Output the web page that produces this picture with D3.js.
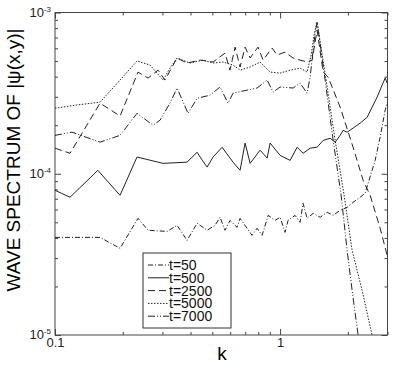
<!DOCTYPE html>
<html>
<head>
  <meta charset="utf-8">
  <title>Wave spectrum</title>
  <script src="https://d3js.org/d3.v7.min.js"></script>
  <style>
    body { margin: 0; background: #fff; }
    svg { display: block; font-family: "Liberation Sans", Arial, sans-serif; }
    .axis path { display: none; }
    .axis line { stroke: #444; }
    .axis text { font-size: 13px; fill: #222; }
    .curve { fill: none; stroke: #222; stroke-width: 1; }
  </style>
</head>
<body>
<script>
  // series: wave number k and spectrum value for each time
  var k50 = [0.1, 0.1227, 0.1585, 0.1945, 0.2338, 0.259, 0.315, 0.3485, 0.386, 0.428, 0.474, 0.514, 0.541, 0.569, 0.599, 0.644, 0.664, 0.713, 0.751, 0.79, 0.832, 0.885, 0.95, 1.0, 1.052, 1.085, 1.166, 1.227, 1.265, 1.318, 1.402, 1.506, 1.618, 1.721, 1.848, 1.985, 2.11, 2.267, 2.386, 2.461, 2.643, 2.783, 2.929, 2.989];
  var s50 = [4.03e-5, 4.03e-5, 4.03e-5, 3.45e-5, 5.29e-5, 4.46e-5, 4.39e-5, 4.79e-5, 3.86e-5, 4.93e-5, 4.46e-5, 4.79e-5, 5.37e-5, 4.46e-5, 5.14e-5, 4.65e-5, 5.29e-5, 4.59e-5, 4.15e-5, 4.59e-5, 4.15e-5, 5.52e-5, 5.14e-5, 5.37e-5, 4.33e-5, 5.14e-5, 5.52e-5, 5.0e-5, 6.56e-5, 5.29e-5, 5.68e-5, 5.37e-5, 5.77e-5, 5.52e-5, 5.93e-5, 6.19e-5, 6.65e-5, 7.15e-5, 7.57e-5, 8.73e-5, 1.21e-4, 1.69e-4, 2.48e-4, 2.74e-4];

  var k500 = [0.1, 0.1166, 0.155, 0.1945, 0.2314, 0.302, 0.386, 0.428, 0.441, 0.474, 0.504, 0.5524, 0.618, 0.664, 0.699, 0.736, 0.815, 0.876, 0.903, 1.0, 1.108, 1.19, 1.265, 1.36, 1.46, 1.553, 1.668, 1.756, 1.848, 1.905, 1.985, 2.11, 2.267, 2.436, 2.564, 2.698, 2.841, 2.929, 2.989];
  var s500 = [7.9e-5, 7.15e-5, 1.05e-4, 7.35e-5, 1.27e-4, 1.16e-4, 1.18e-4, 1.36e-4, 1.27e-4, 1.1e-4, 1.27e-4, 1.46e-4, 1.18e-4, 1.05e-4, 1.55e-4, 1.16e-4, 1.4e-4, 1.25e-4, 1.55e-4, 1.3e-4, 1.21e-4, 1.46e-4, 1.34e-4, 1.44e-4, 1.46e-4, 1.61e-4, 1.66e-4, 1.57e-4, 1.73e-4, 1.86e-4, 1.81e-4, 1.92e-4, 2.06e-4, 2.24e-4, 2.59e-4, 2.99e-4, 3.55e-4, 3.92e-4, 3.65e-4];

  var k2500 = [0.1, 0.1166, 0.1585, 0.1945, 0.2338, 0.259, 0.287, 0.308, 0.3485, 0.386, 0.441, 0.504, 0.569, 0.599, 0.631, 0.664, 0.699, 0.736, 0.798, 0.84, 0.921, 0.97, 1.052, 1.142, 1.227, 1.318, 1.388, 1.46, 1.553, 1.634, 1.848, 2.11, 2.338, 2.512, 2.783, 2.989];
  var s2500 = [1.44e-4, 1.34e-4, 2.74e-4, 2.28e-4, 4.27e-4, 3.92e-4, 4.39e-4, 3.81e-4, 5.22e-4, 4.86e-4, 5.07e-4, 4.93e-4, 5.6e-4, 4.39e-4, 6.1e-4, 4.59e-4, 6.1e-4, 5.22e-4, 6.1e-4, 5.07e-4, 6.02e-4, 5.45e-4, 5.68e-4, 5.22e-4, 5.07e-4, 4.93e-4, 5.07e-4, 7.78e-4, 4.27e-4, 3.98e-4, 2.59e-4, 1.46e-4, 9.11e-5, 7.35e-5, 4.59e-5, 3.12e-5];

  var k5000 = [0.1, 0.1227, 0.1585, 0.1945, 0.2314, 0.2644, 0.302, 0.324, 0.3485, 0.398, 0.4548, 0.504, 0.558, 0.618, 0.664, 0.736, 0.815, 0.903, 1.0, 1.108, 1.227, 1.318, 1.374, 1.416, 1.46, 1.601, 1.756, 1.925, 2.089, 2.314, 2.564, 2.672];
  var s5000 = [2.55e-4, 2.66e-4, 2.78e-4, 3.81e-4, 5.0e-4, 4.72e-4, 3.81e-4, 4.52e-4, 5.22e-4, 4.86e-4, 5.07e-4, 4.86e-4, 4.93e-4, 4.72e-4, 4.39e-4, 4.59e-4, 4.93e-4, 4.27e-4, 4.21e-4, 4.39e-4, 4.52e-4, 4.27e-4, 5.45e-4, 7.25e-4, 8.73e-4, 3.81e-4, 1.61e-4, 7.35e-5, 3.35e-5, 1.89e-5, 9.93e-6, 6.95e-6];

  var k7000 = [0.1, 0.119, 0.1585, 0.1945, 0.2314, 0.2726, 0.293, 0.324, 0.3485, 0.39, 0.428, 0.4885, 0.541, 0.587, 0.618, 0.713, 0.79, 0.876, 0.931, 1.0, 1.142, 1.227, 1.318, 1.36, 1.402, 1.431, 1.46, 1.585, 1.721, 1.867, 1.985, 2.089, 2.221, 2.314];
  var s7000 = [1.73e-4, 1.81e-4, 1.57e-4, 1.73e-4, 2.37e-4, 2.0e-4, 2.15e-4, 2.74e-4, 3.4e-4, 2.37e-4, 2.94e-4, 3.07e-4, 3.45e-4, 2.74e-4, 3.16e-4, 3.3e-4, 3.4e-4, 3.81e-4, 3.21e-4, 3.45e-4, 3.4e-4, 3.65e-4, 3.16e-4, 3.98e-4, 5.85e-4, 7.46e-4, 8.73e-4, 3.81e-4, 1.61e-4, 7.35e-5, 3.35e-5, 1.89e-5, 1.0e-5, 6.95e-6];

  var seriesNames = ["t=50", "t=500", "t=2500", "t=5000", "t=7000"];
  var seriesK = [k50, k500, k2500, k5000, k7000];
  var seriesS = [s50, s500, s2500, s5000, s7000];
  var dashes = ["5,2,1,2", null, "7,4", "1.5,1.5", "7,2,1,2,1,2"];

  var xMajor = [0.1, 1];
  var xMinor = [0.2, 0.3, 0.4, 0.5, 0.6, 0.7, 0.8, 0.9, 2, 3];
  var yMajor = [1e-5, 1e-4, 1e-3];
  var yMajorLabels = ["-5", "-4", "-3"];
  var yMinor = [2e-5, 3e-5, 4e-5, 5e-5, 6e-5, 7e-5, 8e-5, 9e-5, 2e-4, 3e-4, 4e-4, 5e-4, 6e-4, 7e-4, 8e-4, 9e-4];

  var svgW = 403, svgH = 368;
  var plotL = 55, plotR = 387.5, plotT = 12.5, plotB = 335;

  var svg = d3.select("body").append("svg")
    .attr("width", svgW)
    .attr("height", svgH);

  var x = d3.scaleLog().domain([0.1, 3]).range([plotL, plotR]);
  var y = d3.scaleLog().domain([1e-5, 1e-3]).range([plotB, plotT]);

  svg.append("clipPath").attr("id", "plotclip")
    .append("rect")
    .attr("x", plotL).attr("y", plotT)
    .attr("width", plotR - plotL).attr("height", plotB - plotT);

  // ticks, inward on all four sides
  function addAxis(axis, tx, ty, cls) {
    svg.append("g").attr("class", "axis " + cls)
      .attr("transform", "translate(" + tx + "," + ty + ")")
      .call(axis);
  }
  addAxis(d3.axisBottom(x).tickValues(xMajor).tickSize(-6).tickPadding(3).tickFormat(d3.format("")), 0, plotB, "xb");
  addAxis(d3.axisBottom(x).tickValues(xMinor).tickSize(-3).tickFormat(""), 0, plotB, "xbm");
  addAxis(d3.axisTop(x).tickValues(xMajor).tickSize(-6).tickFormat(""), 0, plotT, "xt");
  addAxis(d3.axisTop(x).tickValues(xMinor).tickSize(-3).tickFormat(""), 0, plotT, "xtm");
  addAxis(d3.axisLeft(y).tickValues(yMajor).tickSize(-6).tickFormat(""), plotL, 0, "yl");
  addAxis(d3.axisLeft(y).tickValues(yMinor).tickSize(-3).tickFormat(""), plotL, 0, "ylm");
  addAxis(d3.axisRight(y).tickValues(yMajor).tickSize(-6).tickFormat(""), plotR, 0, "yr");
  addAxis(d3.axisRight(y).tickValues(yMinor).tickSize(-3).tickFormat(""), plotR, 0, "yrm");

  // y labels as 10 with exponent
  var ylab = svg.append("g").selectAll("text")
    .data(yMajor)
    .enter().append("text")
    .attr("x", 51)
    .attr("y", function(d) { return y(d) + 4; })
    .attr("text-anchor", "end")
    .style("font-size", "13px")
    .style("fill", "#222");
  ylab.append("tspan").text("10");
  ylab.append("tspan")
    .attr("dy", -5)
    .style("font-size", "8px")
    .text(function(d, i) { return yMajorLabels[i]; });

  // frame
  svg.append("rect")
    .attr("x", plotL).attr("y", plotT)
    .attr("width", plotR - plotL).attr("height", plotB - plotT)
    .attr("fill", "none").attr("stroke", "#444").attr("stroke-width", 1);

  var line = d3.line()
    .x(function(d) { return x(d[0]); })
    .y(function(d) { return y(d[1]); });

  var plot = svg.append("g").attr("clip-path", "url(#plotclip)");
  seriesNames.forEach(function(name, i) {
    var pts = seriesK[i].map(function(k, j) { return [k, seriesS[i][j]]; });
    plot.append("path")
      .attr("class", "curve")
      .attr("d", line(pts))
      .attr("stroke-dasharray", dashes[i]);
  });

  // legend
  var lg = svg.append("g").attr("transform", "translate(143,253)");
  lg.append("rect")
    .attr("width", 88).attr("height", 75)
    .attr("fill", "#fff").attr("stroke", "#333").attr("stroke-width", 1);
  seriesNames.forEach(function(name, i) {
    var yy = 12 + i * 12.8;
    lg.append("line")
      .attr("x1", 5).attr("x2", 26)
      .attr("y1", yy).attr("y2", yy)
      .attr("class", "curve")
      .attr("stroke-dasharray", dashes[i]);
    lg.append("text")
      .attr("x", 26).attr("y", yy + 5)
      .style("font-size", "14px")
      .style("fill", "#111")
      .text(name);
  });

  // axis titles
  svg.append("text")
    .attr("x", 222).attr("y", 360)
    .attr("text-anchor", "middle")
    .style("font-size", "19px")
    .text("k");
  svg.append("text")
    .attr("transform", "translate(20,160) rotate(-90)")
    .attr("text-anchor", "middle")
    .style("font-size", "19px")
    .text("WAVE SPECTRUM OF |\u03c8(x,y)|");
</script>
</body>
</html>
